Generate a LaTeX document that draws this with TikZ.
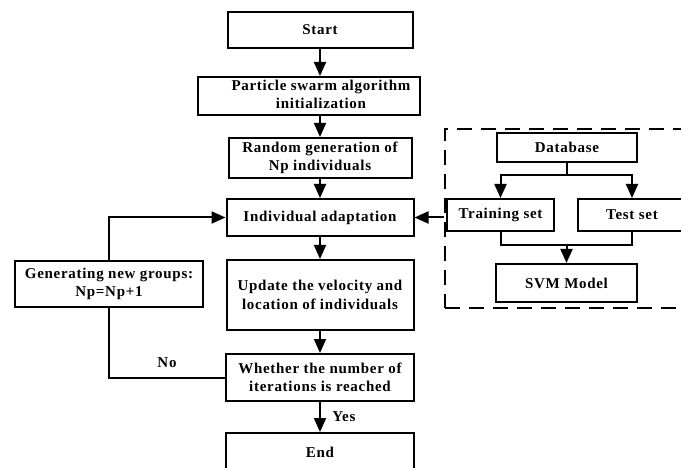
\documentclass[tikz,border=0pt]{standalone}
\usepackage{fontspec}
\setmainfont{Liberation Serif}[LetterSpace=4.7]
\usetikzlibrary{arrows.meta}

\begin{document}
\begin{tikzpicture}[x=1pt,y=-1pt,
  font=\fontsize{15}{18.5}\selectfont\bfseries,
  box/.style={draw, line width=2pt, inner sep=0pt, align=center},
  conn/.style={line width=2pt},
  arr/.style={conn, -{Triangle[length=14pt,width=12pt]}},
  frame/.style={draw, line width=2pt, dash pattern=on 15pt off 9pt, inner sep=0pt},
]
\useasboundingbox (0,0) rectangle (681,468);

% main PSO column
\node[box, minimum width=185pt, minimum height=36pt] (start) at (320,30) {Start};
\node[box, minimum width=222pt, minimum height=38pt] (init) at (309,96)
  {\begin{tabular}{@{\hspace{24pt}}c@{}}Particle swarm algorithm\\initialization\end{tabular}};
\node[box, minimum width=183pt, minimum height=40pt] (rand) at (320,158) {Random generation of\\Np individuals};
\node[box, minimum width=187pt, minimum height=37pt] (adapt) at (320,217.5) {Individual adaptation};
\node[box, minimum width=187pt, minimum height=70pt] (update) at (320,295) {Update the velocity and\\location of individuals};
\node[box, minimum width=188pt, minimum height=47pt] (check) at (320,377.5) {Whether the number of\\iterations is reached};
\node[box, minimum width=188pt, minimum height=38pt] (end) at (320,452) {End};

% regeneration branch
\node[box, minimum width=188pt, minimum height=46pt] (regen) at (109,284) {Generating new groups:\\Np=Np+1};

% SVM fitness block
\node[frame, minimum width=260pt, minimum height=179pt] (svmframe) at (575,218.5) {};
\node[box, minimum width=140pt, minimum height=29pt] (db) at (567,147.5) {Database};
\node[box, minimum width=107pt, minimum height=32pt] (train) at (500.5,215) {Training set};
\node[box, minimum width=108pt, minimum height=32pt] (test) at (632,215) {Test set};
\node[box, minimum width=141pt, minimum height=38pt] (svm) at (566.5,283) {SVM Model};

% flow of the main column
\draw[arr] (start) -- (start.south |- init.north);
\draw[arr] (init.south -| rand.north) -- (rand.north);
\draw[arr] (rand) -- (adapt);
\draw[arr] (adapt) -- (update);
\draw[arr] (update) -- (check);
\draw[arr] (check) -- node[right=8pt] {Yes} (end);

% loop back when the iteration limit is not reached
\draw[conn] (check.west) -| node[pos=0.25, above=6pt] {No} (regen.south);
\draw[arr] (regen.north) |- (adapt.west);

% data flow inside the SVM block
\draw[conn] (db.south) -- ++(0,12) coordinate (split);
\draw[arr] (split) -| (train.north);
\draw[arr] (split) -| (test.north);
\draw[conn] (train.south) -- ++(0,13) coordinate (join) -| (test.south);
\draw[arr] (join -| svm.north) -- (svm.north);

% fitness value fed back to the swarm
\draw[arr] (svmframe.west |- adapt.east) -- (adapt.east);
\end{tikzpicture}
\end{document}
